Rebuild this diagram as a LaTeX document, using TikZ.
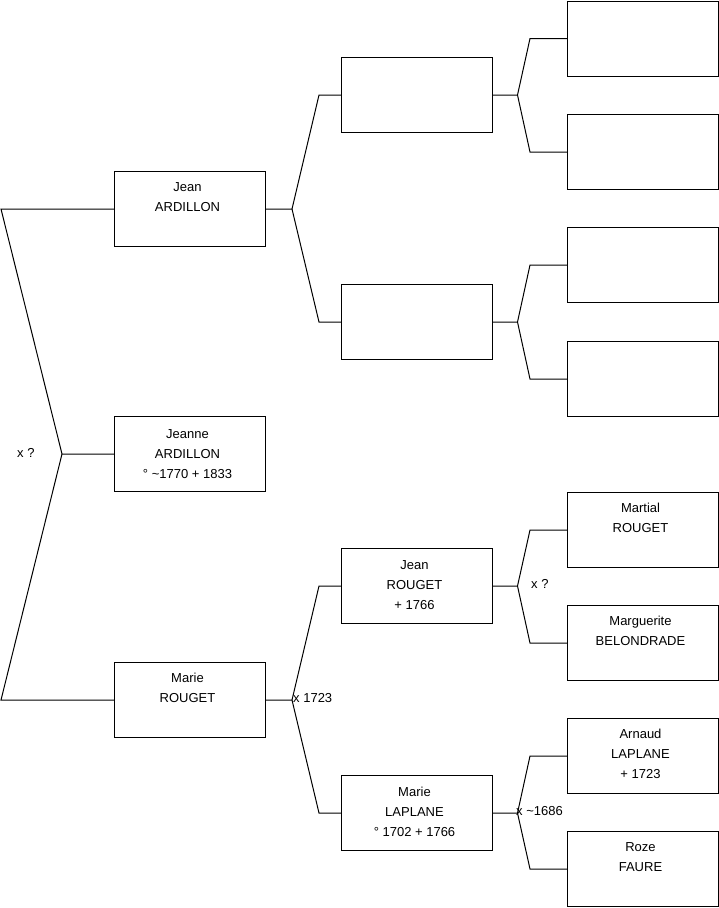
\documentclass[tikz,border=0pt]{standalone}
\usepackage{fontspec}
\setmainfont{Liberation Sans}
\begin{document}
\begin{tikzpicture}[x=1pt,y=-1pt,
  person/.style={draw, minimum width=151pt, minimum height=75pt, inner sep=0pt, anchor=north west, line width=1pt},
  ptext/.style={anchor=north, inner sep=0pt, align=center, font=\fontsize{13}{20}\selectfont},
  link/.style={line width=1pt},
  lbl/.style={inner sep=0pt, anchor=west, font=\fontsize{13}{20}\selectfont}]
\useasboundingbox (0,0) rectangle (719,908);
% generation 1
\node[person] (p1) at (114,171) {};
\node[person] (p2) at (114,416) {};
\node[person] (p3) at (114,662) {};
% generation 2
\node[person] (q1) at (341,57) {};
\node[person] (q2) at (341,284) {};
\node[person] (q3) at (341,548) {};
\node[person] (q4) at (341,775) {};
% generation 3
\node[person] (r1) at (567,0.5) {};
\node[person] (r2) at (567,114) {};
\node[person] (r3) at (567,227) {};
\node[person] (r4) at (567,341) {};
\node[person] (r5) at (567,492) {};
\node[person] (r6) at (567,605) {};
\node[person] (r7) at (567,718) {};
\node[person] (r8) at (567,831) {};
% texts
\node[ptext] (t1) at ([xshift=-2.5pt,yshift=-10.5pt]p1.north) {\rule{0pt}{10pt}Jean\\ARDILLON};
\node[ptext] (t2) at ([xshift=-2.5pt,yshift=-12pt]p2.north) {\rule{0pt}{10pt}Jeanne\\ARDILLON\\° \textasciitilde1770 + 1833};
\node[ptext] (t3) at ([xshift=-2.5pt,yshift=-10.5pt]p3.north) {\rule{0pt}{10pt}Marie\\ROUGET};
\node[ptext] (t4) at ([xshift=-2.5pt,yshift=-11.5pt]q3.north) {\rule{0pt}{10pt}Jean\\ROUGET\\+ 1766};
\node[ptext] (t5) at ([xshift=-2.5pt,yshift=-11.5pt]q4.north) {\rule{0pt}{10pt}Marie\\LAPLANE\\° 1702 + 1766};
\node[ptext] (t6) at ([xshift=-2.5pt,yshift=-10.5pt]r5.north) {\rule{0pt}{10pt}Martial\\ROUGET};
\node[ptext] (t7) at ([xshift=-2.5pt,yshift=-10.5pt]r6.north) {\rule{0pt}{10pt}Marguerite\\BELONDRADE};
\node[ptext] (t8) at ([xshift=-2.5pt,yshift=-10.5pt]r7.north) {\rule{0pt}{10pt}Arnaud\\LAPLANE\\+ 1723};
\node[ptext] (t9) at ([xshift=-2.5pt,yshift=-10.5pt]r8.north) {\rule{0pt}{10pt}Roze\\FAURE};
% root connectors
\draw[link] (p1.west) -- ([xshift=-113pt]p1.west) -- ([xshift=-52pt]p2.west) coordinate (j0) -- (p2.west);
\draw[link] (j0) -- ([xshift=-113pt]p3.west) -- (p3.west);
% gen 1 -> gen 2
\draw[link] (p1.east) -- ++(26,0) coordinate (j1) -- ([xshift=-22pt]q1.west) -- (q1.west);
\draw[link] (j1) -- ([xshift=-22pt]q2.west) -- (q2.west);
\draw[link] (p3.east) -- ++(26,0) coordinate (j2) -- ([xshift=-22pt]q3.west) -- (q3.west);
\draw[link] (j2) -- ([xshift=-22pt]q4.west) -- (q4.west);
% gen 2 -> gen 3
\draw[link] (q1.east) -- ++(24.5,0) coordinate (j3) -- ([xshift=-37pt]r1.west) -- (r1.west);
\draw[link] (j3) -- ([xshift=-37pt]r2.west) -- (r2.west);
\draw[link] (q2.east) -- ++(24.5,0) coordinate (j4) -- ([xshift=-37pt]r3.west) -- (r3.west);
\draw[link] (j4) -- ([xshift=-37pt]r4.west) -- (r4.west);
\draw[link] (q3.east) -- ++(24.5,0) coordinate (j5) -- ([xshift=-37pt]r5.west) -- (r5.west);
\draw[link] (j5) -- ([xshift=-37pt]r6.west) -- (r6.west);
\draw[link] (q4.east) -- ++(24.5,0) coordinate (j6) -- ([xshift=-37pt]r7.west) -- (r7.west);
\draw[link] (j6) -- ([xshift=-37pt]r8.west) -- (r8.west);
% marriage labels
\node[lbl] (m0) at (17,453) {x ?};
\node[lbl] (m1) at (293,698) {x 1723};
\node[lbl] (m2) at (531,584) {x ?};
\node[lbl] (m3) at (516,811) {x \textasciitilde1686};
\end{tikzpicture}
\end{document}
